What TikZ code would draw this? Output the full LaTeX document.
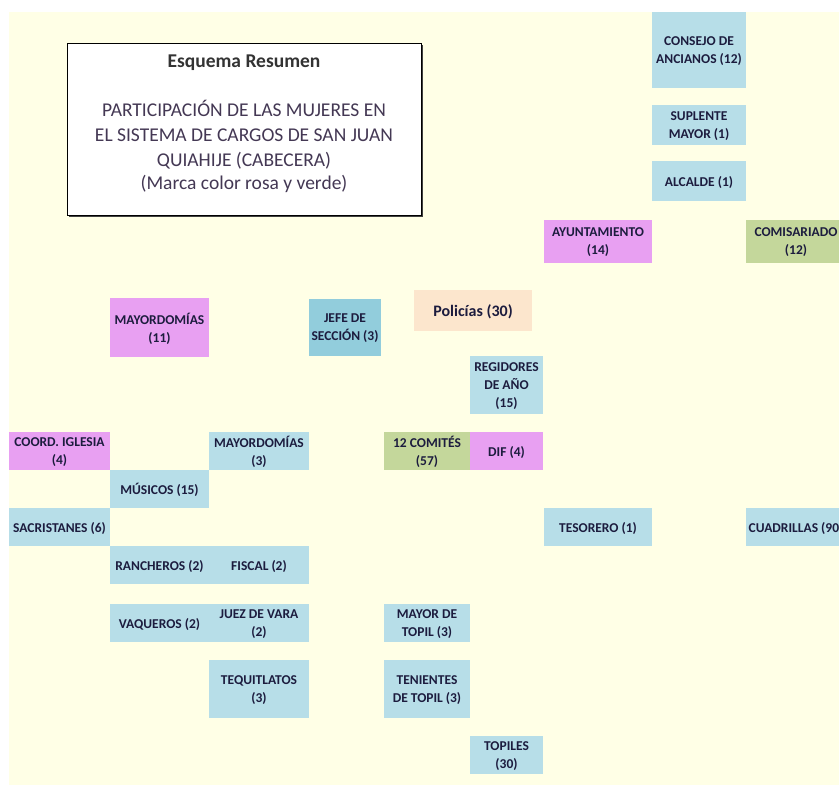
\documentclass[tikz,border=0pt]{standalone}
\usepackage{fontspec}
\setmainfont{Carlito}
\usepackage{tikz}
\usetikzlibrary{shapes}
\usetikzlibrary{shadows}
\definecolor{fondo}{RGB}{255,255,230}
\definecolor{celeste}{RGB}{183,222,232}
\definecolor{celesteosc}{RGB}{146,205,220}
\definecolor{rosa}{RGB}{232,160,242}
\definecolor{verde}{RGB}{196,215,155}
\definecolor{durazno}{RGB}{252,230,205}
\definecolor{letra}{RGB}{28,28,62}
\definecolor{letratit}{RGB}{68,56,84}
\tikzstyle{cargo}=[rectangle,inner sep=0mm,outer sep=0mm,align=center,text=letra,text depth=0pt,
  font=\fontsize{13.5}{18}\selectfont\bfseries]
\tikzstyle{azul}=[cargo,fill=celeste]
\tikzstyle{azulosc}=[cargo,fill=celesteosc]
\tikzstyle{mujer}=[cargo,fill=rosa]
\tikzstyle{mixto}=[cargo,fill=verde]
\tikzstyle{policia}=[cargo,fill=durazno,font=\fontsize{16}{19}\selectfont\bfseries]
\tikzstyle{caja}=[rectangle,draw=black,fill=white,line width=0.8pt,
  drop shadow={shadow xshift=1.6pt,shadow yshift=-1.6pt,fill=black!75,opacity=1}]
\tikzset{every picture/.style={
    line width=1
  }
}

\begin{document}
\begin{tikzpicture}[x=1pt,y=-1pt]
      \useasboundingbox (0,0) rectangle (839,785);
      \fill[white] (0,0) rectangle (839,785);
      \begin{scope}
      \clip (0,0) rectangle (839,785);
      \fill[fondo] (9,12) rectangle (839,785);
      % recuadro del titulo
      \node[caja,minimum width=354,minimum height=172] at (244,129) (marco) {};
      \node[align=center,text=letratit,font=\fontsize{19.5}{25}\selectfont] at (244,124) (titulo)
        {\textcolor{black!80}{\bfseries Esquema Resumen}\\[24pt]
         PARTICIPACI\'ON DE LAS MUJERES EN\\
         EL SISTEMA DE CARGOS DE SAN JUAN\\
         QUIAHIJE (CABECERA)\\[-2pt]
         (Marca color rosa y verde)};
      % columna derecha
      \node[azul,minimum width=94,minimum height=76] at (699,50) (consejo) {CONSEJO DE\\ANCIANOS (12)};
      \node[azul,minimum width=94,minimum height=40] at (699,125) (suplente) {SUPLENTE\\MAYOR (1)};
      \node[azul,minimum width=94,minimum height=40] at (699,181) (alcalde) {ALCALDE (1)};
      \node[mujer,minimum width=108,minimum height=43] at (598,241.5) (ayuntamiento) {AYUNTAMIENTO\\(14)};
      \node[mixto,minimum width=100,minimum height=43] at (796,241.5) (comisariado) {COMISARIADO\\(12)};
      % fila media
      \node[mujer,minimum width=99,minimum height=59] at (159.5,327.5) (mayord11) {MAYORDOM\'IAS\\(11)};
      \node[azulosc,minimum width=72,minimum height=57] at (345,327.5) (jefes) {JEFE DE\\SECCI\'ON (3)};
      \node[policia,minimum width=118,minimum height=41] at (473,310.5) (policias) {Polic\'ias (30)};
      \node[azul,minimum width=73,minimum height=58] at (506.5,385) (regidores) {REGIDORES\\DE A\~NO\\(15)};
      \node[mujer,minimum width=101,minimum height=38] at (59.5,451) (coord) {COORD. IGLESIA\\(4)};
      \node[azul,minimum width=100,minimum height=38] at (259,451) (mayord3) {MAYORDOM\'IAS\\(3)};
      \node[mixto,minimum width=86,minimum height=38] at (427,451) (comites) {12 COMIT\'ES\\(57)};
      \node[mujer,minimum width=73,minimum height=38] at (506.5,451) (dif) {DIF (4)};
      \node[azul,minimum width=99,minimum height=38] at (159.5,489) (musicos) {M\'USICOS (15)};
      \node[azul,minimum width=101,minimum height=38] at (59.5,527) (sacristanes) {SACRISTANES (6)};
      \node[azul,minimum width=108,minimum height=38] at (598,527) (tesorero) {TESORERO (1)};
      \node[azul,minimum width=100,minimum height=38] at (796,527) (cuadrillas) {CUADRILLAS (90)};
      % parte baja
      \node[azul,minimum width=99,minimum height=38] at (159.5,565) (rancheros) {RANCHEROS (2)};
      \node[azul,minimum width=100,minimum height=38] at (259,565) (fiscal) {FISCAL (2)};
      \node[azul,minimum width=99,minimum height=38] at (159.5,623) (vaqueros) {VAQUEROS (2)};
      \node[azul,minimum width=100,minimum height=38] at (259,623) (juez) {JUEZ DE VARA\\(2)};
      \node[azul,minimum width=100,minimum height=58] at (259,689) (tequitlatos) {TEQUITLATOS\\(3)};
      \node[azul,minimum width=86,minimum height=38] at (427,623) (mayortopil) {MAYOR DE\\TOPIL (3)};
      \node[azul,minimum width=86,minimum height=58] at (427,689) (tenientes) {TENIENTES\\DE TOPIL (3)};
      \node[azul,minimum width=73,minimum height=38] at (506.5,755) (topiles) {TOPILES\\(30)};
      \end{scope}
    \end{tikzpicture}
\end{document}
